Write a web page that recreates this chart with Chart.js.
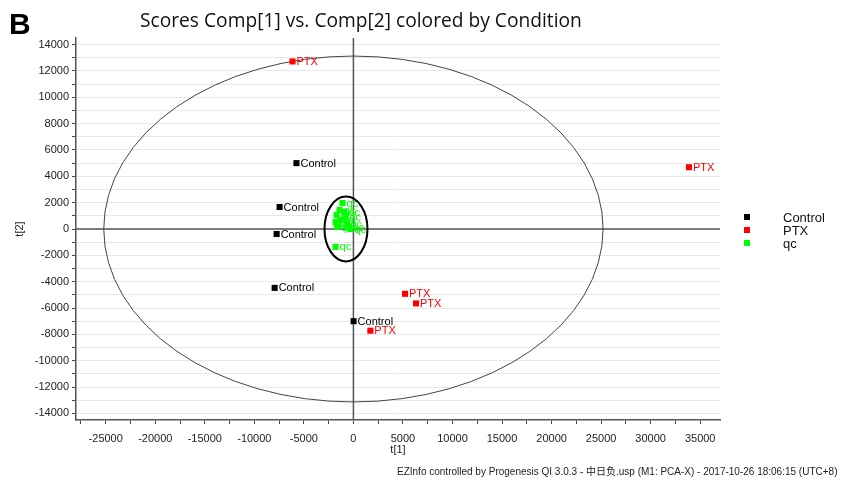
<!DOCTYPE html>
<html>
<head>
<meta charset="utf-8">
<script src="https://cdn.jsdelivr.net/npm/chart.js@4.4.1/dist/chart.umd.min.js"></script>
<style>
	body { margin: 0; background: #fff; }
	#wrap { position: relative; width: 846px; height: 481px; }
	#letter { position: absolute; left: 9px; top: 7px; font: bold 30px "Liberation Sans", Arial, sans-serif; color: #000; }
	#title { position: absolute; left: 140px; top: 6px; font: 19.2px "Open Sans", sans-serif; color: #111; white-space: nowrap; }
	#footer { position: absolute; left: 397px; top: 463px; font: 10px "Liberation Sans", "Noto Sans CJK SC", sans-serif; color: #222; white-space: nowrap; }
</style>
</head>
<body>
<div id="wrap">
	<canvas id="scoreChart" width="846" height="481"></canvas>
	<div id="letter">B</div>
	<div id="title">Scores Comp[1] vs. Comp[2] colored by Condition</div>
	<div id="footer">EZInfo controlled by Progenesis QI 3.0.3 - 中日负.usp (M1: PCA-X) - 2017-10-26 18:06:15 (UTC+8)</div>
</div>
<script>
// data
var groups = ["Control", "PTX", "qc"];
var groupColors = ["#000000", "#ff0000", "#00ff00"];

var controlT1 = [-5750, -7450, -7750, -7950, 20];
var controlT2 = [5000, 1670, -380, -4470, -7000];

var ptxT1 = [-6150, 33870, 5210, 6320, 1710];
var ptxT2 = [12720, 4690, -4920, -5650, -7720];

var qcT1 = [-1100, -1400, -1700, -1800, -1650, -1300, -900, -700, -500, -300, -1500, -1800, -800];
var qcT2 = [1970, 1440, 1060, 530, 150, 680, 1290, 380, 150, 0, 250, -1360, 900];

// labelled ticks on each axis (a minor tick sits half way between two)
var t1TickLabels = [-25000, -20000, -15000, -10000, -5000, 0, 5000, 10000, 15000, 20000, 25000, 30000, 35000];
var t2TickLabels = [-14000, -12000, -10000, -8000, -6000, -4000, -2000, 0, 2000, 4000, 6000, 8000, 10000, 12000, 14000];

// Hotelling ellipse and the hand drawn ring round the qc cluster
var hotelling = { cx: 0, cy: 0, rx: 25200, ry: 13130 };
var qcRing = { cx: -750, cy: 0, rx: 2170, ry: 2460 };

function points(xs, ys) {
	return xs.map(function (x, i) { return { x: x, y: ys[i] }; });
}

// major ticks plus the minor ones between them, kept inside the scale
function withMinor(labels, scale) {
	var out = [];
	labels.forEach(function (v, i) {
		if (i === 0) out.push(v - (labels[1] - v) / 2);
		out.push(v);
		var next = i < labels.length - 1 ? labels[i + 1] : v + (v - labels[i - 1]);
		out.push((v + next) / 2);
	});
	return out.filter(function (v) { return v >= scale.min && v <= scale.max; })
		.map(function (v) { return { value: v }; });
}

var seriesT1 = [controlT1, ptxT1, qcT1];
var seriesT2 = [controlT2, ptxT2, qcT2];

var datasets = groups.map(function (name, i) {
	return {
		label: name,
		data: points(seriesT1[i], seriesT2[i]),
		backgroundColor: groupColors[i],
		borderWidth: 0,
		pointStyle: 'rect',
		pointRadius: 4.3,
		pointHoverRadius: 4.3
	};
});

function ellipse(chart, e, color, width) {
	var xs = chart.scales.x, ys = chart.scales.y;
	var cx = xs.getPixelForValue(e.cx), cy = ys.getPixelForValue(e.cy);
	var rx = Math.abs(xs.getPixelForValue(e.cx + e.rx) - cx);
	var ry = Math.abs(ys.getPixelForValue(e.cy + e.ry) - cy);
	var ctx = chart.ctx;
	ctx.save();
	ctx.beginPath();
	ctx.ellipse(cx, cy, rx, ry, 0, 0, Math.PI * 2);
	ctx.strokeStyle = color;
	ctx.lineWidth = width;
	ctx.stroke();
	ctx.restore();
}

var extras = {
	id: 'extras',
	beforeDatasetsDraw: function (chart) {
		var ctx = chart.ctx, a = chart.chartArea;
		var x0 = chart.scales.x.getPixelForValue(0);
		var y0 = chart.scales.y.getPixelForValue(0);
		ctx.save();
		ctx.strokeStyle = '#555';
		ctx.lineWidth = 1.5;
		ctx.beginPath();
		ctx.moveTo(x0, a.top); ctx.lineTo(x0, a.bottom);
		ctx.moveTo(a.left, y0); ctx.lineTo(a.right, y0);
		ctx.stroke();
		ctx.restore();
		ellipse(chart, hotelling, '#444', 1);
	},
	afterDatasetsDraw: function (chart) {
		var ctx = chart.ctx;
		ctx.save();
		ctx.font = '11px "Liberation Sans", Arial, sans-serif';
		ctx.textBaseline = 'middle';
		chart.data.datasets.forEach(function (ds, i) {
			ctx.fillStyle = ds.backgroundColor;
			chart.getDatasetMeta(i).data.forEach(function (pt) {
				ctx.fillText(ds.label, pt.x + 4, pt.y + 0.5);
			});
		});
		ctx.restore();
		ellipse(chart, qcRing, '#000', 2);

		// legend on the right
		ctx.save();
		ctx.font = '13px "Liberation Sans", Arial, sans-serif';
		ctx.textBaseline = 'middle';
		groups.forEach(function (name, i) {
			var y = 217 + i * 13;
			ctx.fillStyle = groupColors[i];
			ctx.fillRect(744, y - 3, 6, 6);
			ctx.fillStyle = '#111';
			ctx.fillText(name, 783, y + 1);
		});
		ctx.restore();
	}
};

var axisFont = { family: '"Liberation Sans", Arial, sans-serif', size: 11 };

new Chart(document.getElementById('scoreChart'), {
	type: 'scatter',
	data: { datasets: datasets },
	options: {
		responsive: false,
		animation: false,
		layout: { padding: { left: 0, right: 126, top: 38, bottom: 21 } },
		plugins: {
			legend: { display: false },
			tooltip: { enabled: false }
		},
		scales: {
			x: {
				min: -28000,
				max: 37000,
				afterFit: function (s) { s.height = 40; },
				afterBuildTicks: function (s) { s.ticks = withMinor(t1TickLabels, s); },
				ticks: {
					autoSkip: false,
					maxRotation: 0,
					padding: 8,
					color: '#222',
					font: axisFont,
					callback: function (v) { return t1TickLabels.indexOf(v) >= 0 ? v : ''; }
				},
				grid: { display: true, drawOnChartArea: false, tickLength: 4, tickColor: '#444' },
				border: { color: '#555', width: 1.5 },
				title: {
					display: true,
					text: 't[1]',
					color: '#222',
					align: 'center',
					padding: { top: 0, bottom: 3 },
					font: axisFont
				}
			},
			y: {
				min: -14500,
				max: 14500,
				afterFit: function (s) { s.width = 76; },
				afterBuildTicks: function (s) { s.ticks = withMinor(t2TickLabels, s); },
				ticks: {
					autoSkip: false,
					padding: 3,
					color: '#222',
					font: axisFont,
					callback: function (v) { return t2TickLabels.indexOf(v) >= 0 ? v : ''; }
				},
				grid: { color: '#e8e8e8', tickLength: 4, tickColor: '#444' },
				border: { color: '#555', width: 1.5 },
				title: {
					display: true,
					text: 't[2]',
					color: '#222',
					padding: { top: 13, bottom: 0 },
					font: axisFont
				}
			}
		}
	},
	plugins: [extras]
});
</script>
</body>
</html>
